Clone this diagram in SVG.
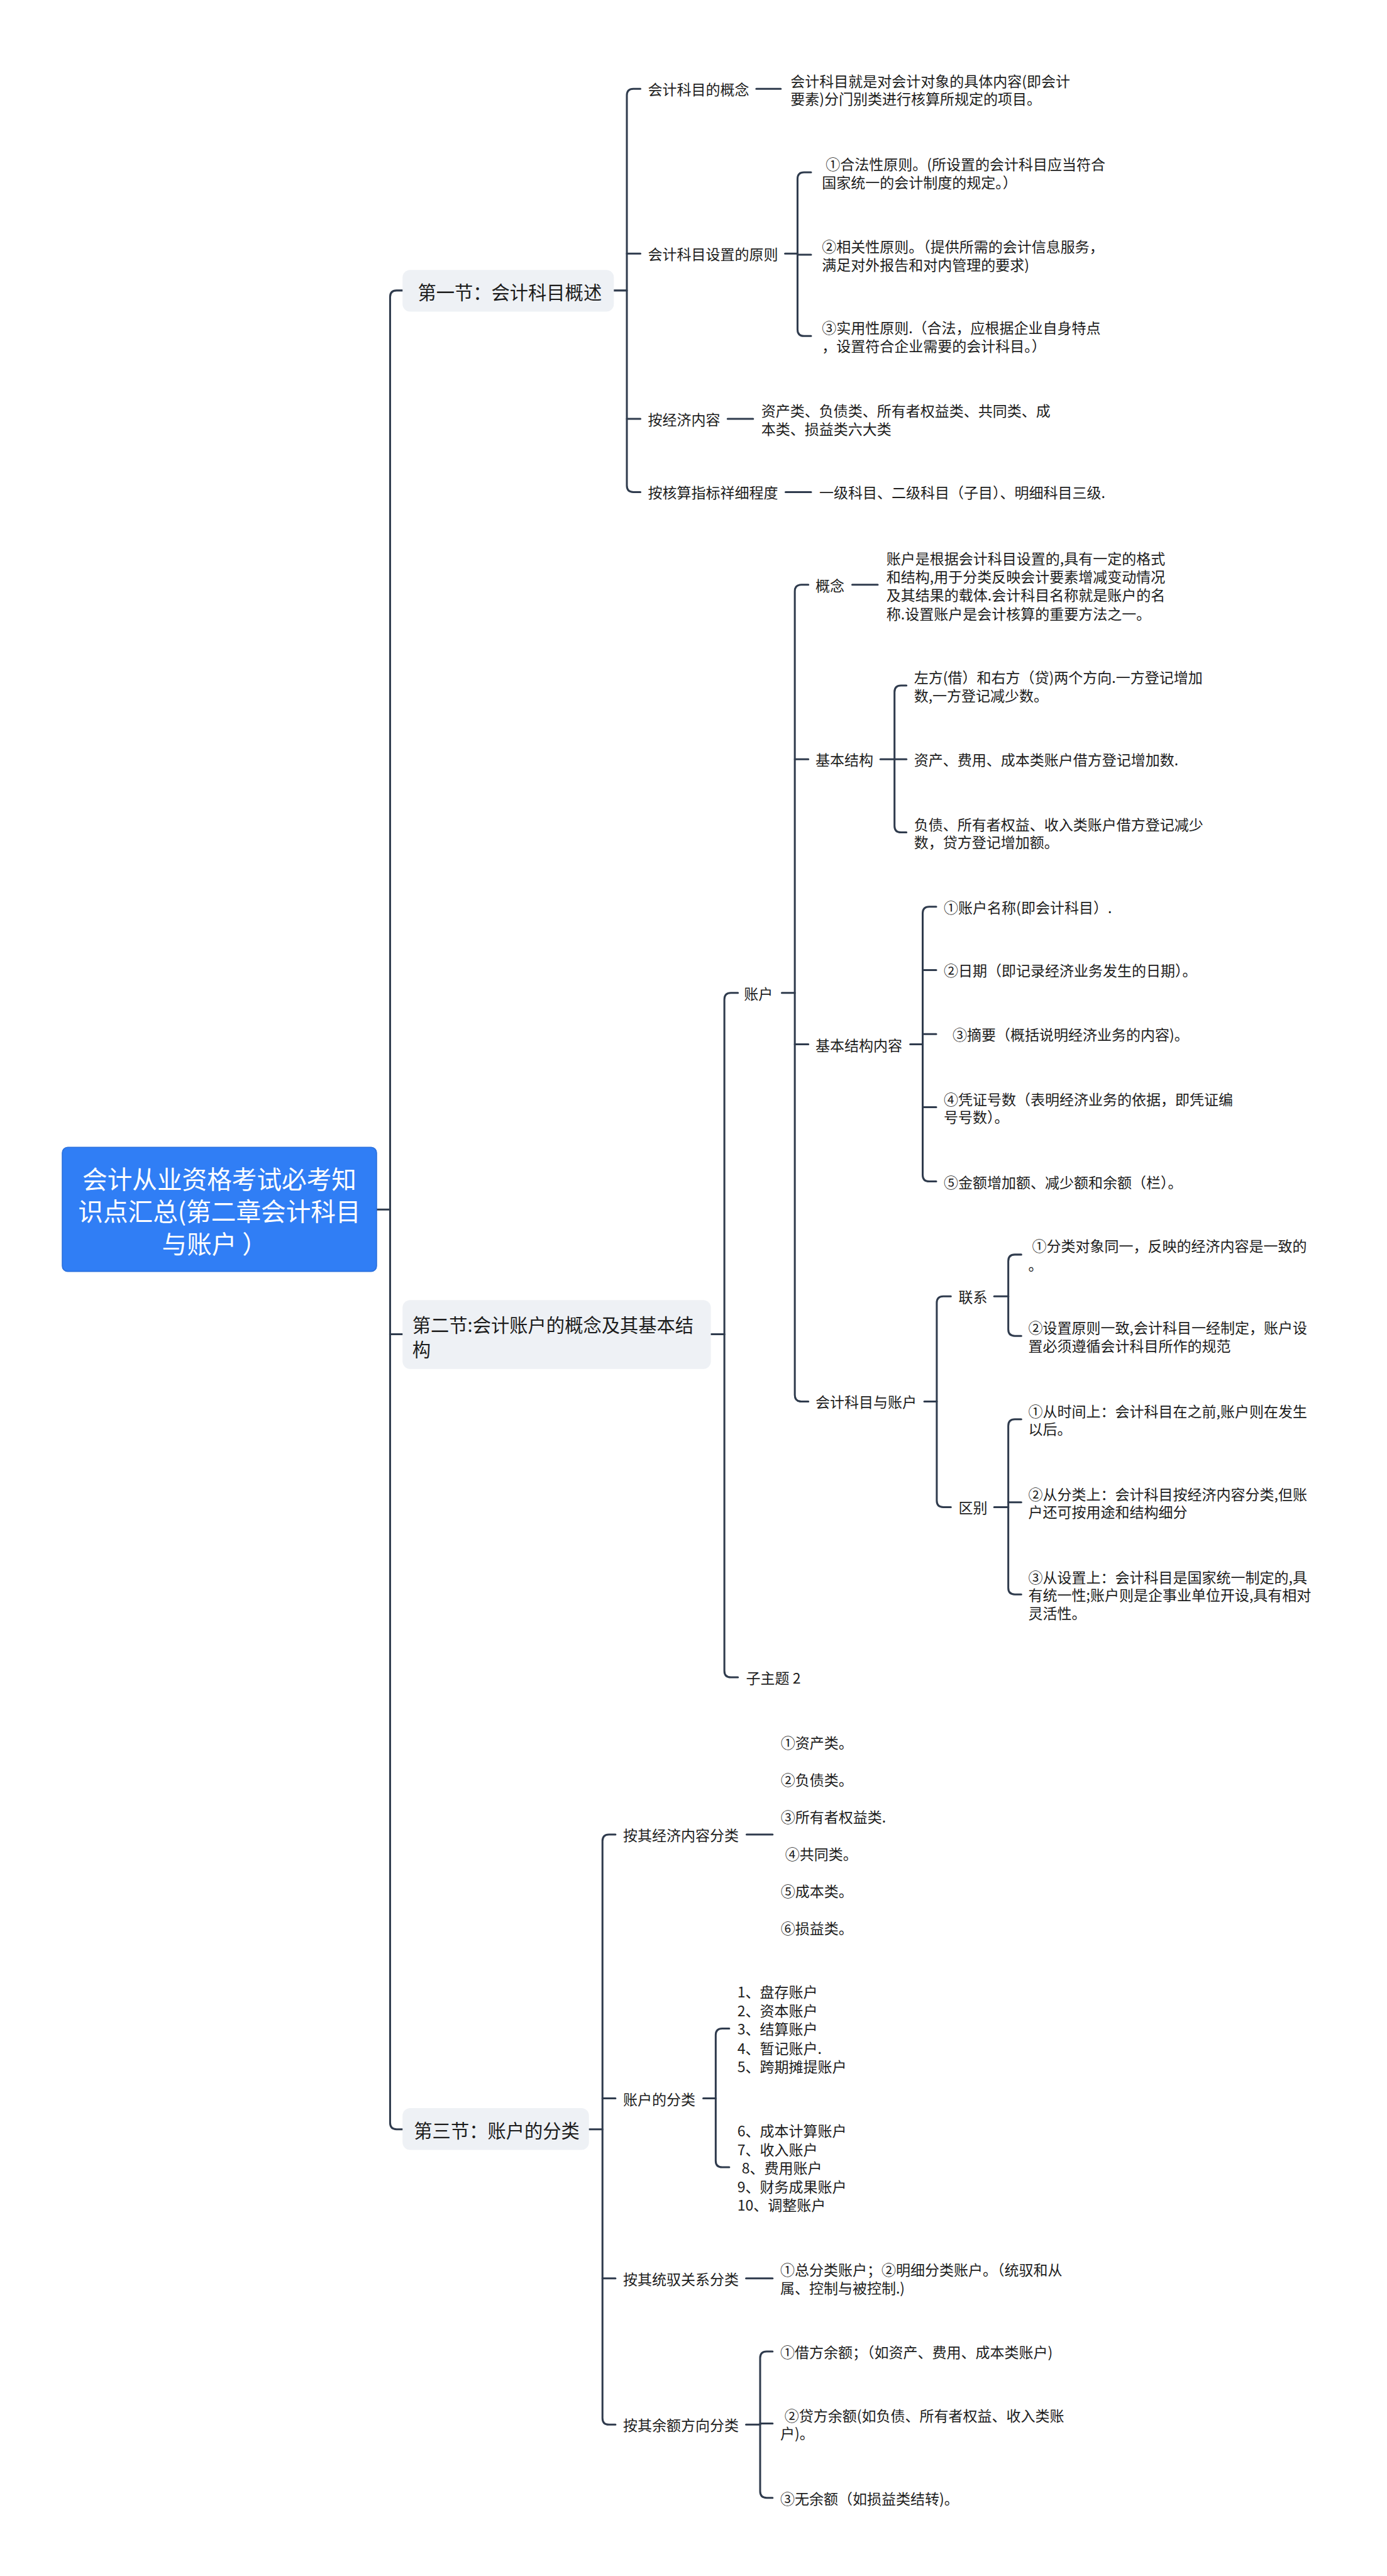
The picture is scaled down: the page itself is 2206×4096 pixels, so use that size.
<svg xmlns="http://www.w3.org/2000/svg" width="2206" height="4096" viewBox="0 0 2206 4096">
<style>
.c{fill:none;stroke:#2f3b4d;stroke-width:3.5;stroke-linecap:round;stroke-linejoin:round}
.t{font-family:"Noto Sans CJK SC","Noto Sans CJK JP","Noto Sans",sans-serif;font-size:26.7px;fill:#1c1c1c;dominant-baseline:central}
.s{font-size:34px}
.r{font-size:46px;fill:#ffffff;text-anchor:middle}
.sec{fill:#eef1f5}
</style>
<rect width="2206" height="4096" fill="#ffffff"/>
<g transform="scale(0.86172)">
<g id="connectors">
<path class="c" d="M695 2232 H720"/>
<path class="c" d="M743 536 H732 Q720 536 720 548 V3917 Q720 3929 732 3929 H743"/>
<path class="c" d="M720 2462 H743"/>
<path class="c" d="M1133 536 H1157"/>
<path class="c" d="M1182 164 H1169 Q1157 164 1157 176 V896 Q1157 908 1169 908 H1182"/>
<path class="c" d="M1157 468 H1182 M1157 773 H1182"/>
<path class="c" d="M1396 164 H1441"/>
<path class="c" d="M1449 468 H1472"/>
<path class="c" d="M1497 318 H1484 Q1472 318 1472 330 V608 Q1472 620 1484 620 H1497"/>
<path class="c" d="M1472 470 H1497"/>
<path class="c" d="M1343 773 H1390"/>
<path class="c" d="M1450 908 H1497"/>
<path class="c" d="M1312 2462 H1337"/>
<path class="c" d="M1362 1832 H1349 Q1337 1832 1337 1844 V3083 Q1337 3095 1349 3095 H1362"/>
<path class="c" d="M1443 1832 H1467"/>
<path class="c" d="M1492 1079 H1479 Q1467 1079 1467 1091 V2574 Q1467 2586 1479 2586 H1492"/>
<path class="c" d="M1467 1401 H1492 M1467 1927 H1492"/>
<path class="c" d="M1573 1079 H1620"/>
<path class="c" d="M1625 1401 H1651"/>
<path class="c" d="M1673 1265 H1663 Q1651 1265 1651 1277 V1524 Q1651 1536 1663 1536 H1673"/>
<path class="c" d="M1651 1401 H1673"/>
<path class="c" d="M1680 1927 H1703"/>
<path class="c" d="M1728 1673 H1715 Q1703 1673 1703 1685 V2168 Q1703 2180 1715 2180 H1728"/>
<path class="c" d="M1703 1790 H1728 M1703 1908 H1728 M1703 2043 H1728"/>
<path class="c" d="M1706 2586 H1729"/>
<path class="c" d="M1755 2392 H1741 Q1729 2392 1729 2404 V2769 Q1729 2781 1741 2781 H1755"/>
<path class="c" d="M1835 2392 H1861"/>
<path class="c" d="M1885 2315 H1873 Q1861 2315 1861 2327 V2453 Q1861 2465 1873 2465 H1885"/>
<path class="c" d="M1835 2781 H1861"/>
<path class="c" d="M1885 2619 H1873 Q1861 2619 1861 2631 V2930 Q1861 2942 1873 2942 H1885"/>
<path class="c" d="M1861 2772 H1885"/>
<path class="c" d="M1087 3929 H1112"/>
<path class="c" d="M1136 3385 H1124 Q1112 3385 1112 3397 V4462 Q1112 4474 1124 4474 H1136"/>
<path class="c" d="M1112 3872 H1136 M1112 4204 H1136"/>
<path class="c" d="M1378 3385 H1426"/>
<path class="c" d="M1298 3872 H1321"/>
<path class="c" d="M1346 3743 H1333 Q1321 3743 1321 3755 V3987 Q1321 3999 1333 3999 H1346"/>
<path class="c" d="M1377 4204 H1426"/>
<path class="c" d="M1377 4474 H1403"/>
<path class="c" d="M1426 4339 H1415 Q1403 4339 1403 4351 V4597 Q1403 4609 1415 4609 H1426"/>
<path class="c" d="M1403 4472 H1426"/>
</g>

<g id="root">
<rect x="115" y="2117" width="580" height="229" rx="10" fill="#307ef5" stroke="#2a70de" stroke-width="2"/>
<text class="t r"><tspan x="405" y="2172">会计从业资格考试必考知</tspan><tspan x="405" y="2232">识点汇总(第二章会计科目</tspan><tspan x="396" y="2292">与账户 ）</tspan></text>
</g>

<g id="sec1">
<rect class="sec" x="743" y="498" width="390" height="77" rx="14"/>
<text class="t s" x="771" y="537">第一节：会计科目概述</text>
</g>
<g id="n1-1"><text class="t" x="1196" y="164">会计科目的概念</text></g>
<g id="n1-1a"><text class="t"><tspan x="1459" y="148">会计科目就是对会计对象的具体内容(即会计</tspan><tspan x="1459" y="181">要素)分门别类进行核算所规定的项目。</tspan></text></g>
<g id="n1-2"><text class="t" x="1196" y="468">会计科目设置的原则</text></g>
<g id="n1-2a"><text class="t"><tspan x="1524" y="302">①合法性原则。(所设置的会计科目应当符合</tspan><tspan x="1517" y="335">国家统一的会计制度的规定。）</tspan></text></g>
<g id="n1-2b"><text class="t"><tspan x="1517" y="454">②相关性原则。（提供所需的会计信息服务，</tspan><tspan x="1517" y="487">满足对外报告和对内管理的要求)</tspan></text></g>
<g id="n1-2c"><text class="t"><tspan x="1517" y="604">③实用性原则.（合法，应根据企业自身特点</tspan><tspan x="1517" y="637">，设置符合企业需要的会计科目。）</tspan></text></g>
<g id="n1-3"><text class="t" x="1196" y="773">按经济内容</text></g>
<g id="n1-3a"><text class="t"><tspan x="1405" y="757">资产类、负债类、所有者权益类、共同类、成</tspan><tspan x="1405" y="790">本类、损益类六大类</tspan></text></g>
<g id="n1-4"><text class="t" x="1196" y="908">按核算指标祥细程度</text></g>
<g id="n1-4a"><text class="t" x="1512" y="908">一级科目、二级科目（子目）、明细科目三级.</text></g>

<g id="sec2">
<rect class="sec" x="743" y="2399" width="569" height="127" rx="14"/>
<text class="t s"><tspan x="761" y="2443">第二节:会计账户的概念及其基本结</tspan><tspan x="761" y="2488">构</tspan></text>
</g>
<g id="n2-1"><text class="t" x="1373" y="1832">账户</text></g>
<g id="n2-1-1"><text class="t" x="1505" y="1079">概念</text></g>
<g id="n2-1-1a"><text class="t"><tspan x="1636" y="1029">账户是根据会计科目设置的,具有一定的格式</tspan><tspan x="1636" y="1063">和结构,用于分类反映会计要素增减变动情况</tspan><tspan x="1636" y="1097">及其结果的载体.会计科目名称就是账户的名</tspan><tspan x="1636" y="1131">称.设置账户是会计核算的重要方法之一。</tspan></text></g>
<g id="n2-1-2"><text class="t" x="1505" y="1401">基本结构</text></g>
<g id="n2-1-2a"><text class="t"><tspan x="1687" y="1249">左方(借）和右方（贷)两个方向.一方登记增加</tspan><tspan x="1687" y="1282">数,一方登记减少数。</tspan></text></g>
<g id="n2-1-2b"><text class="t" x="1687" y="1401">资产、费用、成本类账户借方登记增加数.</text></g>
<g id="n2-1-2c"><text class="t"><tspan x="1687" y="1520">负债、所有者权益、收入类账户借方登记减少</tspan><tspan x="1687" y="1553">数，贷方登记增加额。</tspan></text></g>
<g id="n2-1-3"><text class="t" x="1505" y="1927">基本结构内容</text></g>
<g id="n2-1-3a"><text class="t" x="1742" y="1673">①账户名称(即会计科目）.</text></g>
<g id="n2-1-3b"><text class="t" x="1742" y="1790">②日期（即记录经济业务发生的日期）。</text></g>
<g id="n2-1-3c"><text class="t" x="1758" y="1908">③摘要（概括说明经济业务的内容)。</text></g>
<g id="n2-1-3d"><text class="t"><tspan x="1742" y="2027">④凭证号数（表明经济业务的依据，即凭证编</tspan><tspan x="1742" y="2060">号号数）。</tspan></text></g>
<g id="n2-1-3e"><text class="t" x="1742" y="2180">⑤金额增加额、减少额和余额（栏）。</text></g>
<g id="n2-1-4"><text class="t" x="1505" y="2586">会计科目与账户</text></g>
<g id="n2-1-4-1"><text class="t" x="1769" y="2392">联系</text></g>
<g id="n2-1-4-1a"><text class="t"><tspan x="1905" y="2298">①分类对象同一，反映的经济内容是一致的</tspan><tspan x="1898" y="2332">。</tspan></text></g>
<g id="n2-1-4-1b"><text class="t"><tspan x="1898" y="2449">②设置原则一致,会计科目一经制定，账户设</tspan><tspan x="1898" y="2482">置必须遵循会计科目所作的规范</tspan></text></g>
<g id="n2-1-4-2"><text class="t" x="1769" y="2781">区别</text></g>
<g id="n2-1-4-2a"><text class="t"><tspan x="1898" y="2603">①从时间上：会计科目在之前,账户则在发生</tspan><tspan x="1898" y="2636">以后。</tspan></text></g>
<g id="n2-1-4-2b"><text class="t"><tspan x="1898" y="2756">②从分类上：会计科目按经济内容分类,但账</tspan><tspan x="1898" y="2789">户还可按用途和结构细分</tspan></text></g>
<g id="n2-1-4-2c"><text class="t"><tspan x="1898" y="2909">③从设置上：会计科目是国家统一制定的,具</tspan><tspan x="1898" y="2942">有统一性;账户则是企事业单位开设,具有相对</tspan><tspan x="1898" y="2976">灵活性。</tspan></text></g>
<g id="n2-2"><text class="t" x="1377" y="3095">子主题 2</text></g>

<g id="sec3">
<rect class="sec" x="743" y="3890" width="344" height="77" rx="14"/>
<text class="t s" x="764" y="3929">第三节：账户的分类</text>
</g>
<g id="n3-1"><text class="t" x="1150" y="3385">按其经济内容分类</text></g>
<g id="n3-1a"><text class="t"><tspan x="1441" y="3215">①资产类。</tspan><tspan x="1441" y="3283">②负债类。</tspan><tspan x="1441" y="3352">③所有者权益类.</tspan><tspan x="1449" y="3420">④共同类。</tspan><tspan x="1441" y="3488">⑤成本类。</tspan><tspan x="1441" y="3557">⑥损益类。</tspan></text></g>
<g id="n3-2"><text class="t" x="1150" y="3872">账户的分类</text></g>
<g id="n3-2a"><text class="t"><tspan x="1361" y="3674">1、盘存账户</tspan><tspan x="1361" y="3709">2、资本账户</tspan><tspan x="1361" y="3743">3、结算账户</tspan><tspan x="1361" y="3778">4、暂记账户.</tspan><tspan x="1361" y="3812">5、跨期摊提账户</tspan></text></g>
<g id="n3-2b"><text class="t"><tspan x="1361" y="3930">6、成本计算账户</tspan><tspan x="1361" y="3965">7、收入账户</tspan><tspan x="1369" y="3999">8、费用账户</tspan><tspan x="1361" y="4034">9、财务成果账户</tspan><tspan x="1361" y="4068">10、调整账户</tspan></text></g>
<g id="n3-3"><text class="t" x="1150" y="4204">按其统驭关系分类</text></g>
<g id="n3-3a"><text class="t"><tspan x="1440" y="4187">①总分类账户；②明细分类账户。（统驭和从</tspan><tspan x="1440" y="4221">属、控制与被控制.)</tspan></text></g>
<g id="n3-4"><text class="t" x="1150" y="4474">按其余额方向分类</text></g>
<g id="n3-4a"><text class="t" x="1440" y="4339">①借方余额；（如资产、费用、成本类账户)</text></g>
<g id="n3-4b"><text class="t"><tspan x="1448" y="4456">②贷方余额(如负债、所有者权益、收入类账</tspan><tspan x="1440" y="4489">户)。</tspan></text></g>
<g id="n3-4c"><text class="t" x="1440" y="4609">③无余额（如损益类结转)。</text></g>
</g>
</svg>
